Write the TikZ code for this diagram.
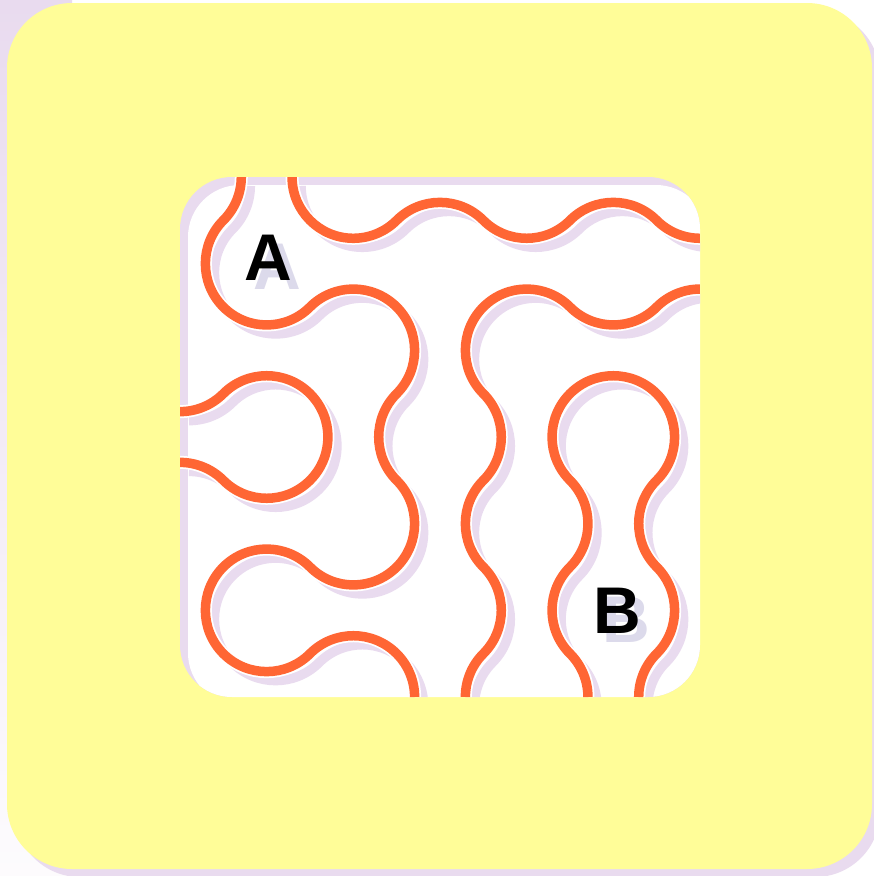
\documentclass[tikz,border=0pt]{standalone}
\usepackage{fontspec}
\newfontfamily\tagfont{Liberation Sans}
\definecolor{sun}{HTML}{FFFD98}
\definecolor{lilac}{HTML}{E9DBEF}
\definecolor{coral}{HTML}{FF6634}
\definecolor{ink}{HTML}{000000}
\definecolor{haze}{HTML}{DCDAEB}
\tikzset{
  wire/.style={draw=coral,line width=9.5pt},
  wirecase/.style={draw=white,line width=13pt},
  wireshadow/.style={draw=lilac,line width=9.5pt},
  tag/.style={font=\tagfont\bfseries\fontsize{66}{66}\selectfont,inner sep=0pt,text=ink},
  tagshadow/.style={tag,text=haze},
  tile/.style={x=173.333pt,y=-173.333pt},
}
\def\rr{0.35355}
% the five wires, in tile units
\newcommand{\wiggles}{
  (\rr,0) arc (0:45:\rr) arc (225:45:\rr) arc (225:405:\rr) arc (225:135:\rr)
    arc (-45:135:\rr) arc (315:45:\rr) arc (225:360:\rr)
  (1-\rr,0) arc (180:45:\rr) arc (225:315:\rr) arc (135:45:\rr) arc (225:315:\rr)
    arc (135:90:\rr)
  (3,1-\rr) arc (270:225:\rr) arc (45:135:\rr) arc (315:135:\rr) arc (-45:45:\rr)
    arc (225:135:\rr) arc (-45:45:\rr) arc (225:180:\rr)
  (0,1+\rr) arc (90:45:\rr) arc (225:495:\rr) arc (315:270:\rr)
  (2+\rr,3) arc (0:-45:\rr) arc (135:225:\rr) arc (45:-45:\rr) arc (135:405:\rr)
    arc (225:135:\rr) arc (315:405:\rr) arc (225:180:\rr)
}
\begin{document}
\begin{tikzpicture}[x=1pt,y=-1pt]
  \clip (0,0) rectangle (874,876);
  \fill[white] (0,0) rectangle (874,876);
  \shade[top color=lilac,bottom color=lilac!10] (0,0) rectangle (72,876);
  % card
  \fill[lilac,rounded corners=65pt] (15,11) rectangle (880,877);
  \fill[sun,rounded corners=65pt] (7,3) rectangle (872,869);
  % window
  \begin{scope}
    \clip[rounded corners=52pt] (180,177) rectangle (700,697);
    \fill[lilac] (180,177) rectangle (700,697);
    \fill[white,rounded corners=52pt] (188,185) rectangle (708,705);
    \begin{scope}[shift={(189,186)},tile]
      \draw[wireshadow] \wiggles;
    \end{scope}
    \begin{scope}[shift={(180,177)},tile]
      \draw[wirecase] \wiggles;
      \draw[wire] \wiggles;
    \end{scope}
    \node[tagshadow] (labA-shadow) at (277,267) {A};
    \node[tag] (labA) at (268,258) {A};
    \node[tagshadow] (labB-shadow) at (626,620) {B};
    \node[tag] (labB) at (617,611) {B};
  \end{scope}
\end{tikzpicture}
\end{document}
